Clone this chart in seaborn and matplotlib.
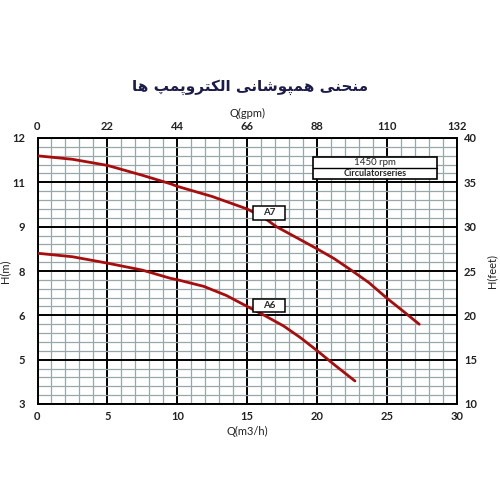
import numpy as np
import pandas as pd
import seaborn as sns
import matplotlib
matplotlib.use("Agg")
from matplotlib import pyplot as plt
from matplotlib.patches import Rectangle

# chart data (flow in m3/h, head in m)
title_fa = "منحنی همپوشانی الکتروپمپ ها"
q_a7 = [0, 2.5, 5, 7.5, 9.5, 10, 12.5, 15, 16.2, 17.1, 18.9, 20, 21.2, 22.4, 23.7, 25, 26.2, 27.3]
h_a7 = [11.58, 11.46, 11.25, 10.91, 10.62, 10.53, 10.18, 9.75, 9.45, 9.14, 8.67, 8.38, 8.05, 7.66, 7.22, 6.68, 6.22, 5.79]
q_a6 = [0, 2.5, 5, 7.5, 9.5, 10, 11.9, 13.5, 15, 16.2, 17.6, 18.8, 20, 21.3, 22.7]
h_a6 = [8.23, 8.11, 7.89, 7.65, 7.37, 7.32, 7.09, 6.78, 6.40, 6.10, 5.73, 5.33, 4.88, 4.37, 3.84]
pumps = ["A7", "A6"]
q_ticks = [0, 5, 10, 15, 20, 25, 30]
gpm_ticks = [0, 22, 44, 66, 88, 110, 132]
feet_ticks = [10, 15, 20, 25, 30, 35, 40]
legend_rows = ["1450 rpm", "Circulatorseries"]

FT = 0.3048


def shape_fa(text):
    # minimal Persian shaping: contextual forms + visual (RTL) order
    forms = {
        "ا": ("\uFE8D", "\uFE8E"), "ر": ("\uFEAD", "\uFEAE"), "و": ("\uFEED", "\uFEEE"),
        "ت": ("\uFE95", "\uFE96", "\uFE97", "\uFE98"),
        "ح": ("\uFEA1", "\uFEA2", "\uFEA3", "\uFEA4"),
        "ش": ("\uFEB5", "\uFEB6", "\uFEB7", "\uFEB8"),
        "ل": ("\uFEDD", "\uFEDE", "\uFEDF", "\uFEE0"),
        "م": ("\uFEE1", "\uFEE2", "\uFEE3", "\uFEE4"),
        "ن": ("\uFEE5", "\uFEE6", "\uFEE7", "\uFEE8"),
        "ه": ("\uFEE9", "\uFEEA", "\uFEEB", "\uFEEC"),
        "پ": ("\uFB56", "\uFB57", "\uFB58", "\uFB59"),
        "ک": ("\uFB8E", "\uFB8F", "\uFB90", "\uFB91"),
        "ی": ("\uFBFC", "\uFBFD", "\uFBFE", "\uFBFF"),
    }
    out = []
    for i, ch in enumerate(text):
        if ch not in forms:
            out.append(ch)
            continue
        prev = text[i - 1] if i > 0 else ""
        nxt = text[i + 1] if i + 1 < len(text) else ""
        join_prev = prev in forms and len(forms[prev]) == 4
        join_next = len(forms[ch]) == 4 and nxt in forms
        f = forms[ch]
        if join_prev and join_next:
            out.append(f[3])
        elif join_prev:
            out.append(f[1])
        elif join_next:
            out.append(f[2])
        else:
            out.append(f[0])
    return "".join(reversed(out))


df = pd.concat([
    pd.DataFrame({"Q": q_a7, "H": h_a7, "Pump": "A7"}),
    pd.DataFrame({"Q": q_a6, "H": h_a6, "Pump": "A6"}),
])

sns.set_style("white")
plt.rcParams["font.family"] = ["Lato", "DejaVu Sans"]

fig = plt.figure(figsize=(5, 5), dpi=100)
ax = fig.add_axes([0.075, 0.192, 0.839, 0.532])

# grid
for v in np.arange(0, 31, 1):
    major = v % 5 == 0
    ax.axvline(v, color="black" if major else "#98a8aa",
               lw=1.4 if major else 0.9, zorder=1)
for v in np.arange(10, 41, 1):
    major = v % 5 == 0
    ax.axhline(v * FT, color="black" if major else "#98a8aa",
               lw=1.4 if major else 0.9, zorder=1)

sns.lineplot(data=df, x="Q", y="H", units="Pump", estimator=None,
             color="#a80d0d", lw=2, sort=False, ax=ax, zorder=3)

ax.set_xlim(0, 30)
ax.set_ylim(10 * FT, 40 * FT)
ax.set_xticks(q_ticks)
ax.set_yticks([f * FT for f in feet_ticks])
ax.set_yticklabels([str(int(round(f * FT))) for f in feet_ticks])
ax.tick_params(length=0, labelsize=8, colors="#222222", pad=5)
ax.tick_params(axis="y", pad=9)
for t in ax.get_xticklabels() + ax.get_yticklabels():
    t.set_fontweight("bold")
ax.set_xlabel("Q(m3/h)", fontsize=8, labelpad=3, color="#222222")
ax.set_ylabel("H(m)", fontsize=8, color="#222222")
ax.yaxis.set_label_coords(-0.066, 0.5)
for s in ax.spines.values():
    s.set_color("black")
    s.set_linewidth(1.4)

# right axis in feet
ax_r = ax.twinx()
ax_r.set_ylim(10, 40)
ax_r.set_yticks(feet_ticks)
ax_r.tick_params(length=0, labelsize=8, colors="#222222", pad=5)
ax_r.set_ylabel("H(feet)", fontsize=8, color="#222222")
ax_r.yaxis.set_label_coords(1.07, 0.5)
ax_r.grid(False)

# top axis in gpm
ax_t = ax.twiny()
ax_t.set_xlim(0, 132)
ax_t.set_xticks(gpm_ticks)
ax_t.tick_params(length=0, labelsize=8, colors="#222222", pad=4)
ax_t.set_xlabel("Q(gpm)", fontsize=8, labelpad=3, color="#222222")
ax_t.grid(False)
for a in (ax_r, ax_t):
    for s in a.spines.values():
        s.set_visible(False)
for t in ax_r.get_yticklabels() + ax_t.get_xticklabels():
    t.set_fontweight("bold")

# curve labels (box corners: q0, q1, h_bottom_ft, h_top_ft)
label_box = {"A7": (15.4, 17.7, 30.8, 32.35), "A6": (15.4, 17.7, 20.4, 21.85)}
for p in pumps:
    bq0, bq1, bh0, bh1 = label_box[p]
    ax.add_patch(Rectangle((bq0, bh0 * FT), bq1 - bq0, (bh1 - bh0) * FT,
                           fc="white", ec="black", lw=1.1, zorder=4))
    ax.text((bq0 + bq1) / 2, (bh0 + bh1) / 2 * FT, p, fontsize=7,
            fontweight="bold", ha="center", va="center", zorder=5)

# speed / series box
x0, x1 = 19.7, 28.6
y_top, y_mid, y_bot = 37.9 * FT, 36.65 * FT, 35.4 * FT
ax.add_patch(Rectangle((x0, y_bot), x1 - x0, y_top - y_bot, fc="white",
                       ec="black", lw=1.2, zorder=4))
ax.plot([x0, x1], [y_mid, y_mid], color="black", lw=1, zorder=5)
ax.text((x0 + x1) / 2, (y_top + y_mid) / 2, legend_rows[0], fontsize=7,
        ha="center", va="center", zorder=6)
ax.text((x0 + x1) / 2, (y_mid + y_bot) / 2, legend_rows[1], fontsize=6.5,
        fontweight="bold", ha="center", va="center", zorder=6)

fig.text(0.5, 0.826, shape_fa(title_fa), ha="center", va="center",
         fontsize=11, fontweight="bold", color="#1c1c4a", family="DejaVu Sans")

fig.savefig("out.png", dpi=100)
